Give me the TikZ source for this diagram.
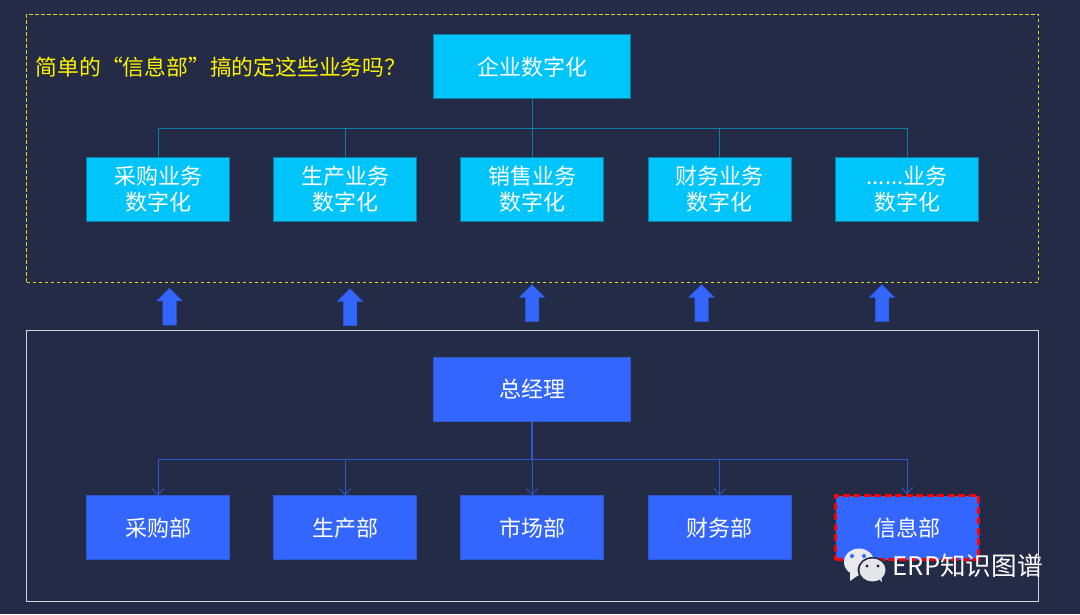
\documentclass[tikz,border=0pt]{standalone}
\usepackage{fontspec}
\setmainfont{Noto Sans CJK SC}
\usetikzlibrary{shapes.arrows,shapes.geometric,arrows.meta}
\definecolor{bg}{HTML}{232B47}
\definecolor{cy}{HTML}{00C5FA}
\definecolor{cyl}{HTML}{0A7FA3}
\definecolor{bl}{HTML}{3366FF}
\definecolor{bll}{HTML}{2F58CC}
\tikzset{
  cybox/.style={rectangle,fill=cy,draw=cyl,line width=0.8pt,text=white,font=\fontsize{22}{26.5}\selectfont,align=center,minimum width=143pt,minimum height=64pt,inner sep=0pt},
  blbox/.style={rectangle,fill=bl,draw=bll,line width=0.8pt,text=white,font=\fontsize{22}{26.5}\selectfont,align=center,minimum width=143pt,minimum height=64pt,inner sep=0pt},
  topbox/.style={minimum width=197pt},
  cyline/.style={draw=cyl,line width=0.8pt},
  blline/.style={draw=bll,line width=0.8pt},
  uparrow/.style={single arrow,shape border rotate=90,fill=bl,draw=bll,line width=0.5pt,minimum height=37pt,minimum width=25pt,single arrow head extend=6pt,single arrow tip angle=90,inner xsep=6.5pt,inner ysep=6pt},
  frame/.style={rectangle,inner sep=0pt,minimum width=1012pt,fill=none},
  wc/.style={ellipse,fill=#1,inner sep=0pt},
}
\begin{document}
\begin{tikzpicture}[x=1pt,y=-1pt]
\useasboundingbox (0,0) rectangle (1080,614);
\fill[bg] (0,0) rectangle (1080,614);
% frames
\node[frame,draw=yellow!85!black,line width=1pt,dash pattern=on 3.5pt off 2.5pt,minimum height=268pt] (upper) at (532.7,148) {};
\node[frame,draw=white!80!bg,line width=1.2pt,minimum height=271pt] (lower) at (532.7,466.3) {};
\node[anchor=west,text=yellow,font=\fontsize{21.8}{26}\selectfont,inner sep=0pt] (q) at (35.5,67.5) {简单的“信息部”搞的定这些业务吗？};
% top tree
\node[cybox,topbox] (root) at (532,66.8) {企业数字化};
\coordinate (bus) at (532,128.5);
\node[cybox] (c1) at (158,189) {采购业务\\数字化};
\node[cybox] (c2) at (345,189) {生产业务\\数字化};
\node[cybox] (c3) at (532,189) {销售业务\\数字化};
\node[cybox] (c4) at (719.5,189) {财务业务\\数字化};
\node[cybox] (c5) at (907,189) {......业务\\数字化};
\draw[cyline] (root.south) -- (c3.north);
\foreach \n in {c1,c2,c3,c4,c5}{
  \draw[cyline] (bus) -| (\n.north);
}
% arrows
\node[uparrow] (a1) at (169.5,310) {};
\node[uparrow] (a2) at (350,310.5) {};
\node[uparrow] (a3) at (532,306.5) {};
\node[uparrow] (a4) at (701.5,306.5) {};
\node[uparrow] (a5) at (882,306.5) {};
% bottom tree
\node[blbox,topbox] (gm) at (532,389.5) {总经理};
\coordinate (bus2) at (532,459.5);
\node[blbox] (b1) at (158,527.7) {采购部};
\node[blbox] (b2) at (345,527.7) {生产部};
\node[blbox] (b3) at (532,527.7) {市场部};
\node[blbox] (b4) at (719.5,527.7) {财务部};
\node[blbox,draw=red,line width=3pt,dash pattern=on 7pt off 3.5pt] (b5) at (907,527.7) {信息部};
\draw[blline,line width=1.6pt] (gm.south) -- (bus2);
\foreach \n in {b1,b2,b3,b4,b5}{
  \draw[blline,-{Straight Barb[length=6pt,width=11pt]}] (bus2) -| (\n.north);
}
% watermark
\node[wc=white!90!bg,minimum width=30pt,minimum height=27pt] (w1) at (859,562) {};
\fill[white!90!bg] (850,571) -- (850,581) -- (860,574) -- cycle;
\fill[bl] (852,556) circle (2pt) (864,556) circle (2pt);
\node[wc=bg,minimum width=30pt,minimum height=26pt] (w0) at (872.5,570) {};
\node[wc=white!88!bg,minimum width=26pt,minimum height=23pt] (w2) at (872.5,570) {};
\fill[white!88!bg] (878,578) -- (882,582) -- (881,575) -- cycle;
\fill[bg!80!black] (867,566) circle (1.6pt) (878,566) circle (1.6pt);
\node[anchor=west,text=white,font=\fontsize{25.6}{30}\selectfont,inner sep=0pt] (wm) at (892.5,566) {ERP知识图谱};
\end{tikzpicture}
\end{document}
